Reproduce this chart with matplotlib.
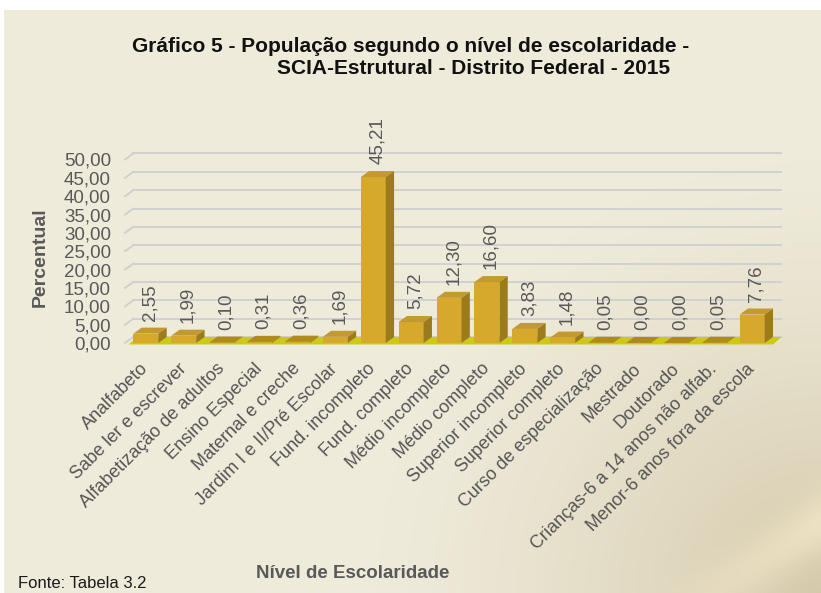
import matplotlib
matplotlib.use("Agg")
import matplotlib.pyplot as plt
import numpy as np
from matplotlib.patches import Polygon
from matplotlib.transforms import ScaledTranslation

plt.rcParams['font.family'] = ['Liberation Sans', 'DejaVu Sans']

categories = ["Analfabeto", "Sabe ler e escrever", "Alfabetização de adultos",
              "Ensino Especial", "Maternal e creche", "Jardim I e II/Pré Escolar",
              "Fund. incompleto", "Fund. completo", "Médio incompleto",
              "Médio completo", "Superior incompleto", "Superior completo",
              "Curso de especialização", "Mestrado", "Doutorado",
              "Crianças-6 a 14 anos não alfab.", "Menor-6 anos fora da escola"]
values = [2.55, 1.99, 0.10, 0.31, 0.36, 1.69, 45.21, 5.72, 12.30,
          16.60, 3.83, 1.48, 0.05, 0.00, 0.00, 0.05, 7.76]
yticks = [0, 5, 10, 15, 20, 25, 30, 35, 40, 45, 50]

title1 = "Gráfico 5 - População segundo o nível de escolaridade -"
title2 = "SCIA-Estrutural - Distrito Federal - 2015"

W, H = 821, 593
fig = plt.figure(figsize=(W / 100, H / 100), dpi=100)
fig.patch.set_facecolor('white')

# background gradient (chart area below a thin white top strip)
top_px = 10
bg = fig.add_axes([4 / W, 0, 1 - 4 / W, 1 - top_px / H], zorder=-10)
yy, xx = np.mgrid[0:1:300j, 0:1:400j]   # yy: 0 top -> 1 bottom
d = np.sqrt(((1 - xx) / 0.55) ** 2 + ((1 - yy) / 0.75) ** 2)
t = np.clip(1 - d, 0, 1) ** 1.3
base = np.array([0.937, 0.922, 0.858])
dark = np.array([0.835, 0.790, 0.670])
img = base[None, None, :] * (1 - t[..., None]) + dark[None, None, :] * t[..., None]
# light streak near the lower right corner
s = (1 - xx) * 0.9 + (1 - yy) * 1.0
streak = np.exp(-((s - 0.12) / 0.05) ** 2) * np.clip((xx - 0.75) / 0.25, 0, 1)
light = np.array([0.95, 0.90, 0.78])
img = img * (1 - streak[..., None] * 0.8) + light[None, None, :] * streak[..., None] * 0.8
bg.imshow(img, extent=[0, 1, 0, 1], origin='upper', aspect='auto')
bg.set_axis_off()

# main axes
ax_left = 125 / W
ax_w = 655.6 / W
ax_bottom = 1 - 343 / H
ax_h = 183.5 / H
ax = fig.add_axes([ax_left, ax_bottom, ax_w, ax_h])
ax.set_facecolor('none')
for s_ in ax.spines.values():
    s_.set_visible(False)

x = np.arange(len(categories))
dx, dy = 0.22, 1.64
bw = 0.66
x0, x1 = -0.45, 16.55
ax.set_xlim(-0.55, 16.75)
ax.set_ylim(0, 50)

# gridlines on back wall
for v in yticks:
    ax.plot([x0 - 0.1 + dx, x1 + dx], [v + dy, v + dy], color='#cdcfd0', lw=1.3,
            zorder=1, clip_on=False)
    ax.plot([x0 - 0.1, x0 - 0.1 + dx], [v, v + dy], color='#cdcfd0', lw=1.3,
            zorder=1, clip_on=False)

# floor
ax.add_patch(Polygon([(x0, -0.4), (x1, -0.4), (x1 + dx, dy), (x0 + dx, dy)],
                     closed=True, fc='#cdc914', ec='none', zorder=2, clip_on=False))

front = '#d6a92c'
topc = '#c39a30'
side = '#9c7b1e'
bars = ax.bar(x, values, width=bw, color=front, zorder=4, clip_on=False)
for rect in bars:
    bx, bwid, bh = rect.get_x(), rect.get_width(), rect.get_height()
    ax.add_patch(Polygon([(bx, bh), (bx + bwid, bh), (bx + bwid + dx, bh + dy), (bx + dx, bh + dy)],
                         closed=True, fc=topc if bh > 0.5 else '#b08a1c', ec='none', zorder=5, clip_on=False))
    ax.add_patch(Polygon([(bx + bwid, 0), (bx + bwid + dx, dy), (bx + bwid + dx, bh + dy), (bx + bwid, bh)],
                         closed=True, fc=side, ec='none', zorder=5, clip_on=False))

for xi, v in zip(x, values):
    ax.annotate(f"{v:.2f}".replace('.', ','), (xi + dx / 2, v + dy), xytext=(0, 5),
                textcoords='offset points', rotation=90, ha='center', va='bottom',
                fontsize=13.5, color='#595959', zorder=6, annotation_clip=False)

ax.set_yticks(yticks)
ax.set_yticklabels([f"{v:.2f}".replace('.', ',') for v in yticks], fontsize=13.5, color='#595959')
ax.tick_params(axis='y', length=0, pad=10)
ax.set_xticks(x)
ax.set_xticklabels(categories, rotation=45, ha='right', va='top', rotation_mode='anchor',
                   fontsize=13, color='#555555')
ax.tick_params(axis='x', length=0, pad=6)
off = ScaledTranslation(-6 / 100, -9 / 100, fig.dpi_scale_trans)
for lab in ax.get_xticklabels():
    lab.set_transform(lab.get_transform() + off)

fig.text(40 / W, 1 - 257 / H, "Percentual", rotation=90, ha='center', va='center',
         fontsize=14, fontweight='bold', color='#595959')
fig.text(353 / W, 1 - 574 / H, "Nível de Escolaridade", ha='center', va='center',
         fontsize=13.5, fontweight='bold', color='#595959')
fig.text(18 / W, 1 - 584 / H, "Fonte: Tabela 3.2", ha='left', va='center',
         fontsize=12, color='#1a1a1a')
fig.text(132 / W, 1 - 47 / H, title1, ha='left', va='center', fontsize=15,
         fontweight='bold', color='#111111')
fig.text(277 / W, 1 - 68 / H, title2, ha='left', va='center', fontsize=15,
         fontweight='bold', color='#111111')

fig.savefig('out.png', dpi=100, facecolor='white')
